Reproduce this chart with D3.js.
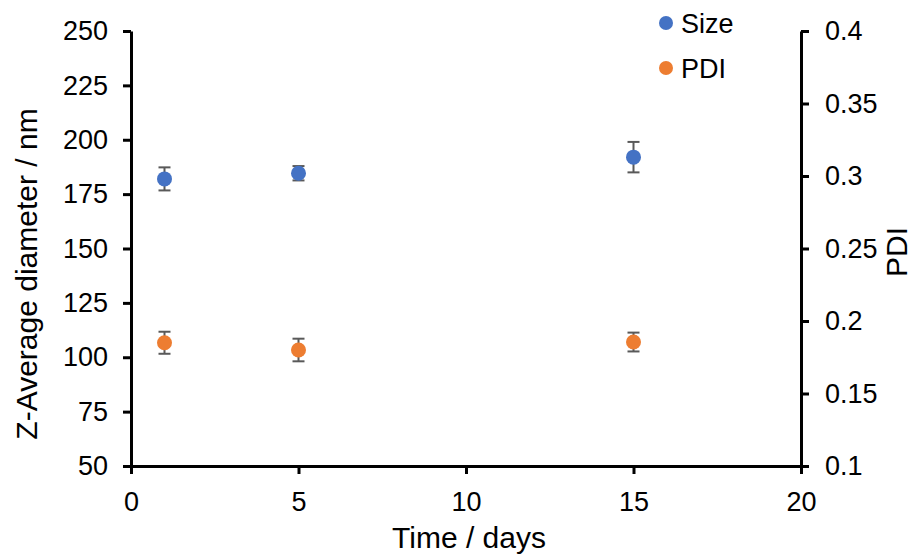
<!DOCTYPE html>
<html>
<head>
<meta charset="utf-8">
<script src="https://cdn.jsdelivr.net/npm/d3@7"></script>
<style>
  body { margin: 0; background: #fff; }
  svg text { font-family: "Liberation Sans", Arial, sans-serif; fill: #000; }
</style>
</head>
<body>
<div id="chart"></div>
<script>
// Values
const days = [1, 5, 15];
const sizeValues = [182, 184.6, 192];
const sizeErrors = [5.3, 3.3, 7];
const pdiValues = [0.185, 0.180, 0.1855];
const pdiErrors = [0.0076, 0.0078, 0.0065];
const xTicks = [0, 5, 10, 15, 20];
const leftTicks = [50, 75, 100, 125, 150, 175, 200, 225, 250];
const rightTicks = [0.1, 0.15, 0.2, 0.25, 0.3, 0.35, 0.4];

const width = 921, height = 556;
const margin = { left: 131, right: 120, top: 31, bottom: 90 };
const tickFont = 27;
const titleFont = 30;

const svg = d3.select('#chart').append('svg')
    .attr('width', width)
    .attr('height', height);

const x = d3.scaleLinear().domain([0, 20]).range([margin.left, width - margin.right]);
const yLeft = d3.scaleLinear().domain([50, 250]).range([height - margin.bottom, margin.top]);
const yRight = d3.scaleLinear().domain([0.1, 0.4]).range([height - margin.bottom, margin.top]);

function styleAxis(g) {
    g.selectAll('path.domain').attr('stroke', '#000').attr('stroke-width', 3);
    g.selectAll('.tick line').attr('stroke', '#000').attr('stroke-width', 3);
    g.selectAll('.tick text').attr('font-size', tickFont)
        .attr('font-family', '"Liberation Sans", Arial, sans-serif').attr('fill', '#000');
}

// Axes
svg.append('g')
    .attr('transform', `translate(0,${height - margin.bottom})`)
    .call(d3.axisBottom(x).tickValues(xTicks).tickSize(8).tickSizeOuter(0).tickPadding(18))
    .call(styleAxis);
svg.append('g')
    .attr('transform', `translate(${margin.left},0)`)
    .call(d3.axisLeft(yLeft).tickValues(leftTicks).tickSize(8).tickSizeOuter(0).tickPadding(15))
    .call(styleAxis);
svg.append('g')
    .attr('transform', `translate(${width - margin.right},0)`)
    .call(d3.axisRight(yRight).tickValues(rightTicks).tickFormat(d => String(+d.toFixed(2))).tickSize(8).tickSizeOuter(0).tickPadding(16))
    .call(styleAxis);

// Series drawing helper
function drawSeries(vals, errs, yScale, color) {
    const data = days.map((d, i) => ({ day: d, v: vals[i], e: errs[i] }));
    const g = svg.append('g');
    const eb = g.selectAll('g.err').data(data).join('g').attr('class', 'err')
        .attr('stroke', '#595959').attr('stroke-width', 2);
    eb.append('line')
        .attr('x1', d => x(d.day)).attr('x2', d => x(d.day))
        .attr('y1', d => yScale(d.v - d.e)).attr('y2', d => yScale(d.v + d.e));
    eb.append('line')
        .attr('x1', d => x(d.day) - 6).attr('x2', d => x(d.day) + 6)
        .attr('y1', d => yScale(d.v + d.e)).attr('y2', d => yScale(d.v + d.e));
    eb.append('line')
        .attr('x1', d => x(d.day) - 6).attr('x2', d => x(d.day) + 6)
        .attr('y1', d => yScale(d.v - d.e)).attr('y2', d => yScale(d.v - d.e));
    g.selectAll('circle').data(data).join('circle')
        .attr('cx', d => x(d.day))
        .attr('cy', d => yScale(d.v))
        .attr('r', 7.5)
        .attr('fill', color);
}
drawSeries(sizeValues, sizeErrors, yLeft, '#4472C4');
drawSeries(pdiValues, pdiErrors, yRight, '#ED7D31');

// Legend
const legend = [{ name: 'Size', color: '#4472C4' }, { name: 'PDI', color: '#ED7D31' }];
const lg = svg.append('g').attr('transform', 'translate(666,23)');
legend.forEach((d, i) => {
    lg.append('circle').attr('cx', 0).attr('cy', i * 45).attr('r', 7).attr('fill', d.color);
    lg.append('text').attr('x', 15).attr('y', i * 45 + 10)
        .attr('font-size', tickFont).text(d.name);
});

// Axis titles
svg.append('text')
    .attr('x', 469).attr('y', 548)
    .attr('text-anchor', 'middle')
    .attr('font-size', titleFont)
    .text('Time / days');
svg.append('text')
    .attr('transform', 'translate(37,274) rotate(-90)')
    .attr('text-anchor', 'middle')
    .attr('font-size', titleFont)
    .text('Z-Average diameter / nm');
svg.append('text')
    .attr('transform', 'translate(907,252) rotate(-90)')
    .attr('text-anchor', 'middle')
    .attr('font-size', titleFont)
    .text('PDI');
</script>
</body>
</html>
